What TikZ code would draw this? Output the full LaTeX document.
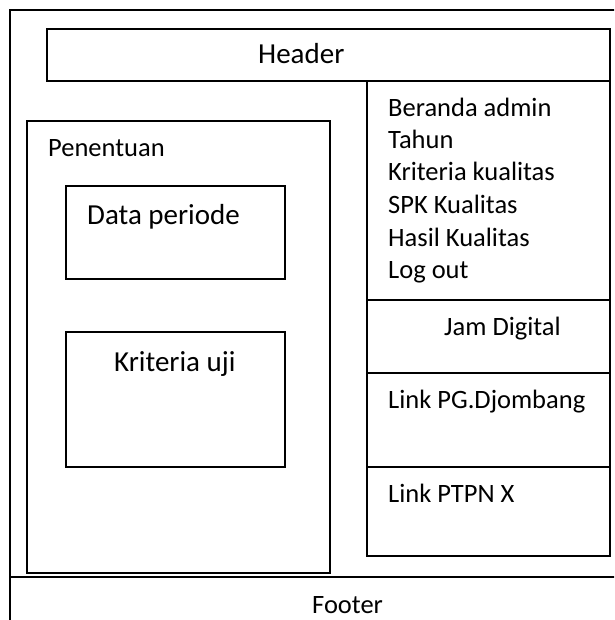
\documentclass[tikz,border=0pt]{standalone}
\usepackage{fontspec}
\setmainfont{Carlito}
\usetikzlibrary{positioning}

\begin{document}
\begin{tikzpicture}[x=1pt, y=-1pt]
		\tikzstyle{frame}=[rectangle, draw, line width=1.6pt, outer sep=0pt, inner sep=0pt, anchor=north west]
		\tikzstyle{big}=[font=\fontsize{29}{35}\selectfont, inner sep=0pt, anchor=base west]
		\tikzstyle{small}=[font=\fontsize{26.5}{32}\selectfont, inner sep=0pt, anchor=base west]

		\clip (0,0) rectangle (614,620);

		% outer page, its right and bottom edges fall outside
		\node[frame, minimum width=640pt, minimum height=640pt] (page) at (10,10) {};
		\node[frame, minimum width=640pt, minimum height=60pt] (footer) at (10,577) {};

		\node[frame, minimum width=563pt, minimum height=52pt] (header) at (47,29) {};

		% left block
		\node[frame, minimum width=303pt, minimum height=452pt] (penentuan) at (27,121) {};
		\node[frame, minimum width=219pt, minimum height=93pt] (dataperiode) at (66,186) {};
		\node[frame, minimum width=219pt, minimum height=135pt] (kriteriauji) at (66,332) {};

		% right column
		\node[frame, minimum width=243pt, minimum height=219pt] (menu) at (367,81) {};
		\node[frame, minimum width=243pt, minimum height=73pt, below=0pt of menu] (jam) {};
		\node[frame, minimum width=243pt, minimum height=94pt, below=0pt of jam] (linkpg) {};
		\node[frame, minimum width=243pt, minimum height=89pt, below=0pt of linkpg] (linkptpn) {};

		% texts
		\node[big] (headerText) at (258,64) {Header};
		\node[small] (penentuanText) at (48,157) {Penentuan};
		\node[big] (dataperiodeText) at (87,225) {Data periode};
		\node[big] (kriteriaujiText) at (114,371) {Kriteria uji};

		\node[small] (beranda) at (388,117) {Beranda admin};
		\node[small] (tahun) at (388,149) {Tahun};
		\node[small] (kriteria) at (388,181) {Kriteria kualitas};
		\node[small] (spk) at (388,214) {SPK Kualitas};
		\node[small] (hasil) at (388,246) {Hasil Kualitas};
		\node[small] (logout) at (388,278) {Log out};

		\node[small] (jamText) at (444,335) {Jam Digital};
		\node[small] (linkpgText) at (388,408) {Link PG.Djombang};
		\node[small] (linkptpnText) at (388,502) {Link PTPN X};
		\node[small] (footerText) at (312,613) {Footer};

	\end{tikzpicture}
\end{document}
